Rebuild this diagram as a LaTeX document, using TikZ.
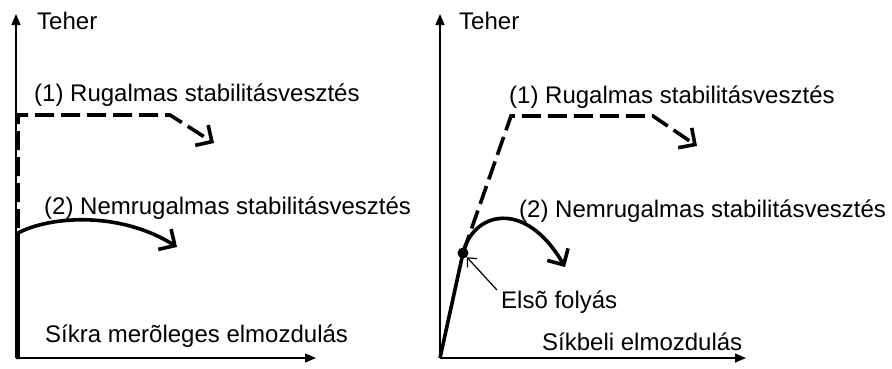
\documentclass[tikz,border=0pt]{standalone}
\usepackage{fontspec}
\setmainfont{Liberation Sans}
\usetikzlibrary{arrows.meta,positioning}

\tikzset{
  axis/.style={line width=1.4pt, -{Triangle[length=11pt,width=9pt]}},
  elastic/.style={line width=3.6pt, dash pattern=on 19pt off 7pt, -{Straight Barb[length=12pt,width=24pt]}},
  inelastic/.style={line width=3.6pt, -{Straight Barb[length=12pt,width=24pt]}},
  lbl/.style={anchor=west, inner sep=0pt, font=\fontsize{24}{28}\selectfont},
}

\begin{document}
\begin{tikzpicture}[x=1pt, y=-1pt]
    \useasboundingbox (0,0) rectangle (892,368);
    % left: out of plane
    \coordinate (lo) at (16,358);
    \coordinate (ly) at (16,14);
    \coordinate (lx) at (316,358);
    \draw[axis] (lo) -- (ly);
    \draw[axis] (lo) -- (lx);
    \node[lbl] (lteher) at (37,21) {Teher};
    \coordinate (lc1) at (18,115);
    \coordinate (lc2) at (170,115);
    \coordinate (le1) at (214,143);
    \draw[elastic] (18,358) -- (lc1) -- (lc2) -- (le1);
    \coordinate (lb) at (18,233);
    \coordinate (le2) at (177,247);
    \draw[inelastic] (18,359) -- (lb) .. controls (50,216) and (120,211) .. (le2);
    \node[lbl] (lel) at (34,95) {(1) Rugalmas stabilitásvesztés};
    \node[lbl] (lin) at (44,208) {(2) Nemrugalmas stabilitásvesztés};
    \node[lbl] (ldisp) at (45,336) {Síkra merõleges elmozdulás};

    % right: in plane
    \coordinate (ro) at (440,358);
    \coordinate (ry) at (440,14);
    \coordinate (rx) at (746,358);
    \draw[axis] (ro) -- (ry);
    \draw[axis] (ro) -- (rx);
    \node[lbl] (rteher) at (459,21) {Teher};
    \node[circle, fill=black, inner sep=0pt, minimum size=11pt] (fy) at (463,253) {};
    \draw[line width=3.6pt] (ro) -- (fy.center);
    \coordinate (rc1) at (511,116);
    \coordinate (rc2) at (653,116);
    \coordinate (re1) at (697,146);
    \draw[elastic] (fy.center) -- (rc1) -- (rc2) -- (re1);
    \coordinate (re2) at (565,267);
    \draw[inelastic] (fy.center) .. controls (473,212) and (525,198) .. (re2);
    \node[lbl] (rel) at (509,97) {(1) Rugalmas stabilitásvesztés};
    \node[lbl] (rin) at (519,211) {(2) Nemrugalmas stabilitásvesztés};
    \node[lbl] (yield) at (501,302) {Elsõ folyás};
    \coordinate (ytail) at (497,290);
    \draw[line width=1.2pt, -{Straight Barb[length=7pt,width=13pt]}] (ytail) -- (fy);
    \node[lbl] (rdisp) at (542,342) {Síkbeli elmozdulás};
\end{tikzpicture}
\end{document}
